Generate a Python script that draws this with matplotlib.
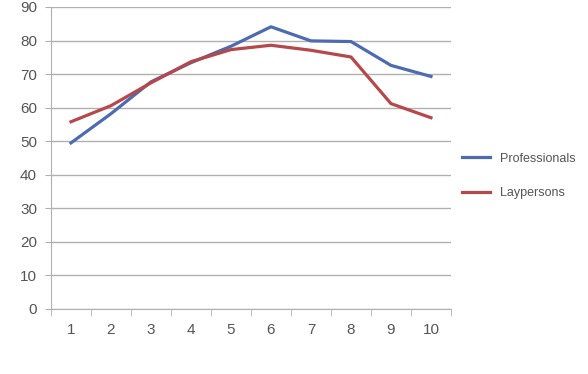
import matplotlib.pyplot as plt
import numpy as np

categories = [1, 2, 3, 4, 5, 6, 7, 8, 9, 10]
professionals = [49.5, 58.2, 67.7, 73.4, 78.3, 84.1, 79.9, 79.7, 72.6, 69.3]
laypersons = [55.8, 60.6, 67.4, 73.7, 77.3, 78.6, 77.1, 75.1, 61.2, 57.0]
y_ticks = [0, 10, 20, 30, 40, 50, 60, 70, 80, 90]

plt.rcParams['font.family'] = ['Liberation Sans', 'DejaVu Sans']

fig = plt.figure(figsize=(5.88, 3.74), dpi=100)
ax = fig.add_axes([0.0867, 0.1738, 0.6803, 0.8075])

# grid lines behind the data
for y in y_ticks:
    ax.axhline(y, color='#b0b0b0', lw=1.0, zorder=1)

ax.plot(categories, professionals, color='#4d6bb0', lw=2.3, label='Professionals', zorder=3)
ax.plot(categories, laypersons, color='#b6484b', lw=2.3, label='Laypersons', zorder=3)

ax.set_xlim(0.5, 10.5)
ax.set_ylim(0, 90)
ax.set_yticks(y_ticks)
ax.set_xticks(categories)
ax.set_xticks(np.arange(0.5, 11, 1), minor=True)

for s in ['top', 'right']:
    ax.spines[s].set_visible(False)
ax.spines['left'].set_color('#b0b0b0')
ax.spines['bottom'].set_color('#b0b0b0')

ax.tick_params(axis='x', which='major', length=0, pad=10, labelsize=11, labelcolor='#555555')
ax.tick_params(axis='x', which='minor', length=5, color='#b0b0b0', direction='out')
ax.tick_params(axis='y', length=4, color='#b0b0b0', pad=6, labelsize=11, labelcolor='#555555')

ax.legend(loc='center left', bbox_to_anchor=(1.0, 0.44), frameon=False,
          fontsize=9, handlelength=2.2, labelspacing=1.8, labelcolor='#555555')

plt.savefig('out.png')
